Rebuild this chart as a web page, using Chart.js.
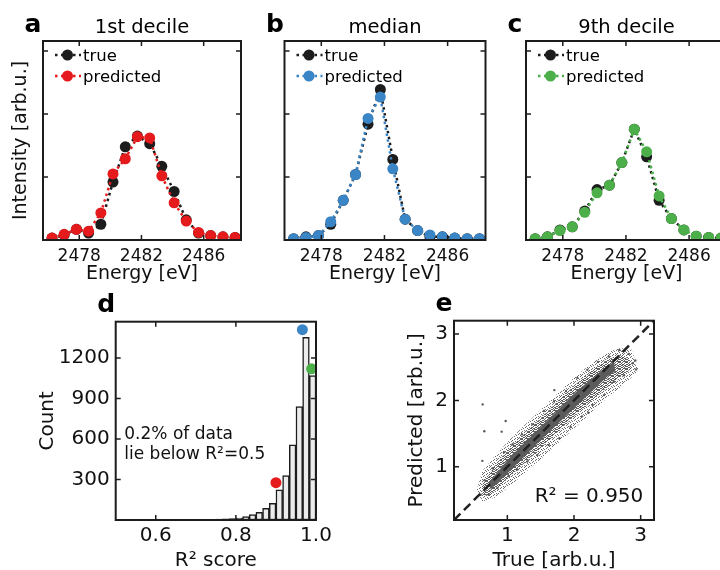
<!DOCTYPE html>
<html><head><meta charset="utf-8">
<script src="https://cdn.jsdelivr.net/npm/chart.js@4/dist/chart.umd.min.js"></script>
<style>
html,body{margin:0;padding:0;background:#fff;width:720px;height:570px;overflow:hidden;position:relative;}
canvas{position:absolute;}
</style></head><body>
<canvas id="pa"></canvas><canvas id="pb"></canvas><canvas id="pc"></canvas>
<canvas id="pd"></canvas><canvas id="pe"></canvas>
<script>
// ---------- data ----------
const energies = [2476.25, 2477.03, 2477.82, 2478.60, 2479.39, 2480.17, 2480.96, 2481.74, 2482.53, 2483.31, 2484.10, 2484.88, 2485.67, 2486.45, 2487.24, 2488.02];
const energyTicks = [2478, 2482, 2486];
const intensityTicks = [1, 2, 3];
const panelTitles = ['1st decile', 'median', '9th decile'];

const trueFirstDecile = [0.03, 0.08, 0.17, 0.11, 0.25, 0.92, 1.48, 1.65, 1.53, 1.17, 0.77, 0.32, 0.11, 0.07, 0.05, 0.04];
const predFirstDecile = [0.03, 0.09, 0.17, 0.14, 0.43, 1.05, 1.29, 1.64, 1.62, 1.02, 0.59, 0.30, 0.12, 0.07, 0.05, 0.04];
const trueMedian = [0.02, 0.05, 0.07, 0.25, 0.63, 1.04, 1.84, 2.39, 1.28, 0.33, 0.15, 0.05, 0.05, 0.03, 0.02, 0.02];
const predMedian = [0.02, 0.04, 0.07, 0.29, 0.63, 1.04, 1.93, 2.27, 1.13, 0.33, 0.15, 0.08, 0.05, 0.03, 0.02, 0.02];
const trueNinthDecile = [0.02, 0.05, 0.16, 0.21, 0.46, 0.80, 0.87, 1.23, 1.76, 1.32, 0.63, 0.34, 0.16, 0.06, 0.04, 0.03];
const predNinthDecile = [0.02, 0.05, 0.15, 0.21, 0.44, 0.75, 0.87, 1.23, 1.76, 1.40, 0.70, 0.34, 0.16, 0.06, 0.04, 0.03];

const r2BinCenters = [0.50833, 0.525, 0.54167, 0.55833, 0.575, 0.59167, 0.60833, 0.625, 0.64167, 0.65833,
  0.675, 0.69167, 0.70833, 0.725, 0.74167, 0.75833, 0.775, 0.79167, 0.80833, 0.825,
  0.84167, 0.85833, 0.875, 0.89167, 0.90833, 0.925, 0.94167, 0.95833, 0.975, 0.99167];
const r2Counts = [0, 0, 1, 0, 1, 1, 1, 1, 2, 1, 2, 2, 3, 4, 5, 6, 8, 11, 15, 25, 40, 57, 87, 124, 223, 329, 557, 841, 1354, 1071];
const r2Ticks = [0.6, 0.8, 1.0];
const countTicks = [300, 600, 900, 1200];
const highlightR2 = [0.900, 0.966, 0.989];
const highlightCount = [277, 1411, 1121];
const highlightColors = ['#e41a1c', '#3a85c6', '#4daf4a'];

const parityTicks = [1, 2, 3];
const diagonal = [0.2, 3.2];
const bandOuterTrue = [0.54, 0.63, 0.80, 1.00, 1.25, 1.50, 1.75, 2.00, 2.25, 2.50, 2.70, 2.86, 2.97, 2.82, 2.57, 2.32, 2.07, 1.82, 1.57, 1.32, 1.07, 0.82, 0.62, 0.54];
const bandOuterPred = [0.66, 0.94, 1.15, 1.37, 1.62, 1.86, 2.10, 2.34, 2.55, 2.73, 2.79, 2.77, 2.46, 2.30, 2.10, 1.88, 1.64, 1.41, 1.18, 0.96, 0.74, 0.54, 0.48, 0.66];
const bandMidTrue = [0.62, 0.80, 1.00, 1.25, 1.50, 1.75, 2.00, 2.25, 2.50, 2.70, 2.82, 2.86, 2.70, 2.50, 2.25, 2.00, 1.75, 1.50, 1.25, 1.00, 0.80, 0.64, 0.62];
const bandMidPred = [0.72, 1.00, 1.24, 1.49, 1.73, 1.98, 2.22, 2.44, 2.62, 2.68, 2.64, 2.48, 2.36, 2.20, 1.98, 1.76, 1.52, 1.28, 1.05, 0.82, 0.62, 0.56, 0.72];
const bandCoreTrue = [0.72, 1.00, 1.25, 1.50, 1.75, 2.00, 2.25, 2.50, 2.60, 2.62, 2.50, 2.25, 2.00, 1.75, 1.50, 1.25, 1.00, 0.75, 0.72];
const bandCorePred = [0.76, 1.10, 1.36, 1.60, 1.85, 2.10, 2.32, 2.52, 2.58, 2.44, 2.36, 2.12, 1.88, 1.64, 1.40, 1.15, 0.90, 0.66, 0.76];
const sparseTrue = [0.60, 0.66, 0.72, 0.78, 0.85, 0.95, 1.02, 1.08, 1.15, 1.22, 1.30, 1.38, 1.45, 1.55, 1.62, 1.70, 1.78, 1.88, 1.95, 2.05, 2.12, 2.20, 2.28, 2.36, 2.45, 2.52, 2.60, 2.68, 2.75, 2.82, 2.88, 2.92,
  0.63, 0.655, 0.625, 0.975, 0.915, 1.705, 2.93, 2.215];
const sparsePred = [0.58, 0.80, 0.58, 0.98, 0.68, 1.22, 0.86, 1.34, 0.96, 1.49, 1.08, 1.64, 1.18, 1.84, 1.33, 1.99, 1.43, 2.14, 1.60, 2.34, 1.76, 2.46, 1.93, 2.58, 2.08, 2.66, 2.28, 2.76, 2.38, 2.70, 2.56, 2.60,
  1.94, 1.535, 1.09, 1.69, 1.53, 2.155, 2.465, 1.815];

// ---------- helpers ----------
Chart.defaults.font.family = "'DejaVu Sans', 'Liberation Sans', sans-serif";
Chart.defaults.color = '#111';
const FONT = "'DejaVu Sans', sans-serif";
const INK = '#1c1c1c';

function place(id, box) {
  const c = document.getElementById(id);
  c.width = box.w; c.height = box.h;
  c.style.left = box.x + 'px'; c.style.top = box.y + 'px';
  return c;
}
function pts(xs, ys) { return xs.map((x, i) => ({x: x, y: ys[i]})); }

// speckle texture (fixed tile) used as fill style for the dense scatter cloud
function speckle(size, cells, color) {
  const c = document.createElement('canvas');
  c.width = size; c.height = size;
  const g = c.getContext('2d');
  g.fillStyle = color;
  cells.forEach(([x, y]) => g.fillRect(x, y, 1, 1));
  return g.createPattern(c, 'repeat');
}

function framePlugin(xTicks, yTicks) {
  return {
    id: 'frame',
    afterDatasetsDraw(chart) {
      const {ctx, chartArea: a, scales} = chart;
      ctx.save();
      ctx.strokeStyle = INK;
      ctx.lineWidth = 1.5;
      const L = 5;
      ctx.beginPath();
      xTicks.forEach(v => {
        const p = scales.x.getPixelForValue(v);
        ctx.moveTo(p, a.bottom); ctx.lineTo(p, a.bottom - L);
        ctx.moveTo(p, a.top); ctx.lineTo(p, a.top + L);
      });
      yTicks.forEach(v => {
        const p = scales.y.getPixelForValue(v);
        ctx.moveTo(a.left, p); ctx.lineTo(a.left + L, p);
        ctx.moveTo(a.right, p); ctx.lineTo(a.right - L, p);
      });
      ctx.stroke();
      ctx.lineWidth = 2;
      ctx.strokeRect(a.left, a.top, a.right - a.left, a.bottom - a.top);
      ctx.restore();
    }
  };
}
function overlayPlugin(draw) {
  return {
    id: 'overlay',
    afterDraw(chart) {
      const ctx = chart.ctx;
      ctx.save();
      draw(ctx, chart.chartArea, chart);
      ctx.restore();
    }
  };
}
function drawLetter(ctx, a, letter) {
  ctx.fillStyle = '#000';
  ctx.font = 'bold 25px ' + FONT;
  ctx.textAlign = 'left';
  ctx.textBaseline = 'alphabetic';
  ctx.fillText(letter, a.left - 18.5, a.top - 9.5);
}

function baseScales(box, area, xOpt, yOpt) {
  return {
    x: Object.assign({
      type: 'linear', offset: false,
      grid: {display: false, drawTicks: false}, border: {display: false},
      afterFit: s => { s.height = box.y + box.h - area.b; }
    }, xOpt),
    y: Object.assign({
      type: 'linear',
      grid: {display: false, drawTicks: false}, border: {display: false},
      afterFit: s => { s.width = area.l - box.x; }
    }, yOpt)
  };
}
function baseOptions(box, area) {
  return {
    responsive: false, animation: false, devicePixelRatio: 1,
    events: [],
    layout: {padding: {left: 0, top: area.t - box.y, right: box.x + box.w - area.r, bottom: 0}},
    plugins: {legend: {display: false}, tooltip: {enabled: false}, title: {display: false}}
  };
}

// ---------- spectra panels a, b, c ----------
function spectrumPanel(id, box, area, trueVals, predVals, color, title, letter, showYTitle) {
  const canvas = place(id, box);
  const opts = baseOptions(box, area);
  opts.scales = baseScales(box, area, {
    min: 2475.67, max: 2488.4,
    afterBuildTicks: s => { s.ticks = energyTicks.map(v => ({value: v})); },
    ticks: {padding: 6.3, font: {size: 17}, color: '#111', maxRotation: 0, autoSkip: false, callback: v => String(v)},
    title: {display: true, text: 'Energy [eV]', font: {size: 19}, color: '#111', padding: {top: 0, bottom: 4.6}}
  }, {
    min: 0, max: 3.16,
    afterBuildTicks: s => { s.ticks = intensityTicks.map(v => ({value: v})); },
    ticks: {display: false},
    title: {display: showYTitle, text: 'Intensity [arb.u.]', font: {size: 19}, color: '#111', padding: {top: 10, bottom: 0}}
  });
  const mk = (label, vals, col, order) => ({
    label: label, data: pts(energies, vals), order: order, clip: 0,
    borderColor: col, backgroundColor: col, pointBackgroundColor: col,
    borderWidth: 2.5, borderDash: [2.5, 3.5], pointRadius: 5.5, pointBorderWidth: 0, pointHoverRadius: 5.5, fill: false
  });
  return new Chart(canvas, {
    type: 'line',
    data: {datasets: [mk('predicted', predVals, color, 0), mk('true', trueVals, INK, 1)]},
    options: opts,
    plugins: [framePlugin(energyTicks, intensityTicks), overlayPlugin((ctx, a, chart) => {
      drawLetter(ctx, a, letter);
      ctx.fillStyle = '#000';
      ctx.font = '19.5px ' + FONT;
      ctx.textAlign = 'center';
      ctx.fillText(title, (a.left + a.right) / 2, a.top - 8);
      const ds = chart.data.datasets;
      [ds[1], ds[0]].forEach((d, i) => {
        const y = a.top + 14 + i * 21;
        ctx.strokeStyle = d.borderColor; ctx.lineWidth = 2.5; ctx.setLineDash([2.5, 3.5]);
        ctx.beginPath(); ctx.moveTo(a.left + 12, y); ctx.lineTo(a.left + 38, y); ctx.stroke();
        ctx.setLineDash([]);
        ctx.fillStyle = d.borderColor;
        ctx.beginPath(); ctx.arc(a.left + 24.5, y, 5.5, 0, Math.PI * 2); ctx.fill();
        ctx.fillStyle = '#000';
        ctx.font = '16.5px ' + FONT;
        ctx.textAlign = 'left';
        ctx.fillText(d.label, a.left + 40, y + 6);
      });
    })]
  });
}

spectrumPanel('pa', {x: 0, y: 0, w: 250, h: 290}, {l: 43, t: 41, r: 241, b: 240}, trueFirstDecile, predFirstDecile, '#e41a1c', panelTitles[0], 'a', true);
spectrumPanel('pb', {x: 250, y: 0, w: 245, h: 290}, {l: 284.5, t: 41, r: 485.5, b: 240}, trueMedian, predMedian, '#3a85c6', panelTitles[1], 'b', false);
spectrumPanel('pc', {x: 495, y: 0, w: 245, h: 290}, {l: 526, t: 41, r: 727, b: 240}, trueNinthDecile, predNinthDecile, '#4daf4a', panelTitles[2], 'c', false);

// ---------- panel d: histogram ----------
(function () {
  const box = {x: 0, y: 285, w: 360, h: 300};
  const area = {l: 115.7, t: 321.7, r: 316, b: 520};
  const canvas = place('pd', box);
  const opts = baseOptions(box, area);
  opts.scales = baseScales(box, area, {
    min: 0.5, max: 1.0,
    afterBuildTicks: s => { s.ticks = r2Ticks.map(v => ({value: v})); },
    ticks: {padding: 4, font: {size: 20}, color: '#111', maxRotation: 0, autoSkip: false, callback: v => v.toFixed(1)},
    title: {display: true, text: 'R² score', font: {size: 20}, color: '#111', padding: {top: 0, bottom: 12.3}}
  }, {
    min: 0, max: 1470,
    afterBuildTicks: s => { s.ticks = countTicks.map(v => ({value: v})); },
    ticks: {padding: 6, font: {size: 20}, color: '#111', callback: v => String(v)},
    title: {display: true, text: 'Count', font: {size: 20}, color: '#111', padding: {top: 35.5, bottom: 0}}
  });
  new Chart(canvas, {
    type: 'bar',
    data: {datasets: [
      {type: 'scatter', data: pts(highlightR2, highlightCount), pointBackgroundColor: highlightColors, backgroundColor: highlightColors,
       pointRadius: 5.5, pointBorderWidth: 0, clip: 0, order: 0},
      {type: 'bar', data: pts(r2BinCenters, r2Counts), backgroundColor: '#ececec', borderColor: INK, borderWidth: 1.5,
       borderSkipped: false, barPercentage: 1, categoryPercentage: 1, clip: 0, order: 1}
    ]},
    options: opts,
    plugins: [framePlugin(r2Ticks, countTicks), overlayPlugin((ctx, a) => {
      drawLetter(ctx, a, 'd');
      ctx.fillStyle = '#111';
      ctx.font = '17px ' + FONT;
      ctx.textAlign = 'left';
      ctx.fillText('0.2% of data', a.left + 8.6, a.top + 117.3);
      ctx.fillText('lie below R²=0.5', a.left + 8.6, a.top + 137.6);
    })]
  });
})();

// ---------- panel e: parity scatter ----------
(function () {
  const box = {x: 360, y: 285, w: 360, h: 300};
  const area = {l: 454, t: 320.7, r: 654, b: 520};
  const canvas = place('pe', box);
  const opts = baseOptions(box, area);
  opts.scales = baseScales(box, area, {
    min: 0.2, max: 3.2,
    afterBuildTicks: s => { s.ticks = parityTicks.map(v => ({value: v})); },
    ticks: {padding: 4, font: {size: 20}, color: '#111', maxRotation: 0, autoSkip: false, callback: v => String(v)},
    title: {display: true, text: 'True [arb.u.]', font: {size: 20}, color: '#111', padding: {top: 0, bottom: 12.4}}
  }, {
    min: 0.2, max: 3.2,
    afterBuildTicks: s => { s.ticks = parityTicks.map(v => ({value: v})); },
    ticks: {padding: 6, font: {size: 20}, color: '#111', callback: v => String(v)},
    title: {display: true, text: 'Predicted [arb.u.]', font: {size: 20}, color: '#111', padding: {top: 45, bottom: 0}}
  });
  const sparseCells = [[0, 0], [3, 0], [5, 1], [1, 2], [4, 2], [6, 3], [2, 3], [0, 4], [3, 5], [5, 5], [1, 6], [4, 6]];
  const midCells = sparseCells.concat([[1, 0], [6, 0], [2, 1], [3, 2], [0, 2], [5, 3], [1, 4], [4, 4], [6, 4], [2, 5], [0, 6], [5, 6], [3, 3], [6, 6]]);
  const sparseFill = speckle(7, sparseCells, '#6a6a6a');
  const midFill = speckle(7, midCells, '#5e5e5e');
  new Chart(canvas, {
    type: 'line',
    data: {datasets: [
      {data: pts(diagonal, diagonal), borderColor: '#222', borderWidth: 2.5, borderDash: [9, 5], pointRadius: 0, fill: false, clip: 0, order: 0},
      {type: 'scatter', data: pts(sparseTrue, sparsePred), pointBackgroundColor: '#5a5a5a', backgroundColor: '#5a5a5a', pointRadius: 1.2, pointBorderWidth: 0, clip: 0, order: 1},
      {data: pts(bandCoreTrue, bandCorePred), borderWidth: 0, borderColor: 'rgba(0,0,0,0)', backgroundColor: '#5c5c5c', pointRadius: 0, fill: 'shape', clip: 0, order: 2},
      {data: pts(bandMidTrue, bandMidPred), borderWidth: 0, borderColor: 'rgba(0,0,0,0)', backgroundColor: midFill, pointRadius: 0, fill: 'shape', clip: 0, order: 3},
      {data: pts(bandOuterTrue, bandOuterPred), borderWidth: 0, borderColor: 'rgba(0,0,0,0)', backgroundColor: sparseFill, pointRadius: 0, fill: 'shape', clip: 0, order: 4}
    ]},
    options: opts,
    plugins: [framePlugin(parityTicks, parityTicks), overlayPlugin((ctx, a) => {
      drawLetter(ctx, a, 'e');
      ctx.fillStyle = '#111';
      ctx.font = '20px ' + FONT;
      ctx.textAlign = 'right';
      ctx.fillText('R² = 0.950', a.right - 10.7, a.bottom - 17.7);
    })]
  });
})();
</script>
</body></html>
